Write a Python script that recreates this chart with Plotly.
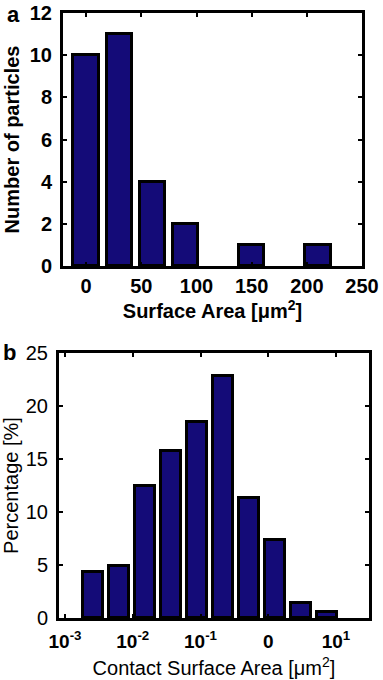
import plotly.graph_objects as go

# Panel a data
a_centers = [0, 30, 60, 90, 120, 150, 180, 210]
a_counts = [10, 11, 4, 2, 0, 1, 0, 1]
a_xticks = [0, 50, 100, 150, 200, 250]
a_yticks = [0, 2, 4, 6, 8, 10, 12]

# Panel b data (bin centres in log10 units)
b_centers = [-2.587, -2.203, -1.819, -1.435, -1.051, -0.667, -0.283, 0.101, 0.485, 0.869]
b_percent = [4.3, 4.9, 12.5, 15.8, 18.5, 22.8, 11.3, 7.4, 1.4, 0.6]
b_xtickvals = [-3, -2, -1, 0, 1]
b_xticktext = ["10<sup>-3</sup>", "10<sup>-2</sup>", "10<sup>-1</sup>", "0", "10<sup>1</sup>"]
b_yticks = [0, 5, 10, 15, 20, 25]

W, H = 383, 680
BAR = "#140B78"
FONT = "Liberation Sans, Arial, sans-serif"

fig = go.Figure()
fig.add_trace(go.Bar(x=a_centers, y=a_counts, width=23,
                     marker=dict(color=BAR, line=dict(color="black", width=[3 if v > 0 else 0 for v in a_counts])),
                     xaxis="x", yaxis="y", showlegend=False, hoverinfo="skip"))
fig.add_trace(go.Bar(x=b_centers, y=b_percent, width=0.294,
                     marker=dict(color=BAR, line=dict(color="black", width=3)),
                     xaxis="x2", yaxis="y2", showlegend=False, hoverinfo="skip"))

common = dict(showgrid=False, zeroline=False, showline=True, linecolor="black", linewidth=3,
              mirror="ticks", ticks="inside", ticklen=4, tickwidth=2, tickcolor="black",
              automargin=False)

fig.update_layout(
    width=W, height=H,
    margin=dict(l=0, r=0, t=0, b=0),
    paper_bgcolor="white", plot_bgcolor="white",
    font=dict(family=FONT, color="black"),
    bargap=0,
    xaxis=dict(domain=[63/W, 362/W], range=[-21, 250], tickvals=a_xticks, anchor="y",
               tickfont=dict(size=20, weight="bold"),
               title=dict(text="Surface Area [μm<sup>2</sup>]", font=dict(size=20, weight="bold"), standoff=6),
               **common),
    yaxis=dict(domain=[1-266/H, 1-13/H], range=[0, 12], tickvals=a_yticks, anchor="x",
               tickfont=dict(size=20, weight="bold"), ticklabelstandoff=4,
               title=dict(text="Number of particles", font=dict(size=20, weight="bold"), standoff=5),
               **common),
    xaxis2=dict(domain=[59/W, 369/W], range=[-3.089, 1.487], tickvals=b_xtickvals, ticktext=b_xticktext,
                anchor="y2", tickfont=dict(size=19, weight="bold"), ticklabelstandoff=4,
                title=dict(text="Contact Surface Area [μm<sup>2</sup>]", font=dict(size=20), standoff=11),
                **common),
    yaxis2=dict(domain=[1-618/H, 1-353/H], range=[0, 25], tickvals=b_yticks, anchor="x2",
                tickfont=dict(size=20), ticklabelstandoff=4,
                title=dict(text="Percentage [%]", font=dict(size=20), standoff=5),
                **common),
    annotations=[
        dict(text="<b>a</b>", x=13/W, y=1, xref="paper", yref="paper", showarrow=False,
             font=dict(size=22, family=FONT), xanchor="center", yanchor="top"),
        dict(text="<b>b</b>", x=9.5/W, y=1-338/H, xref="paper", yref="paper", showarrow=False,
             font=dict(size=22, family=FONT), xanchor="center", yanchor="top"),
    ],
)

fig.write_html("out.html", config={"displayModeBar": False},
               post_script="document.body.style.margin='0';document.body.style.overflow='hidden';")
